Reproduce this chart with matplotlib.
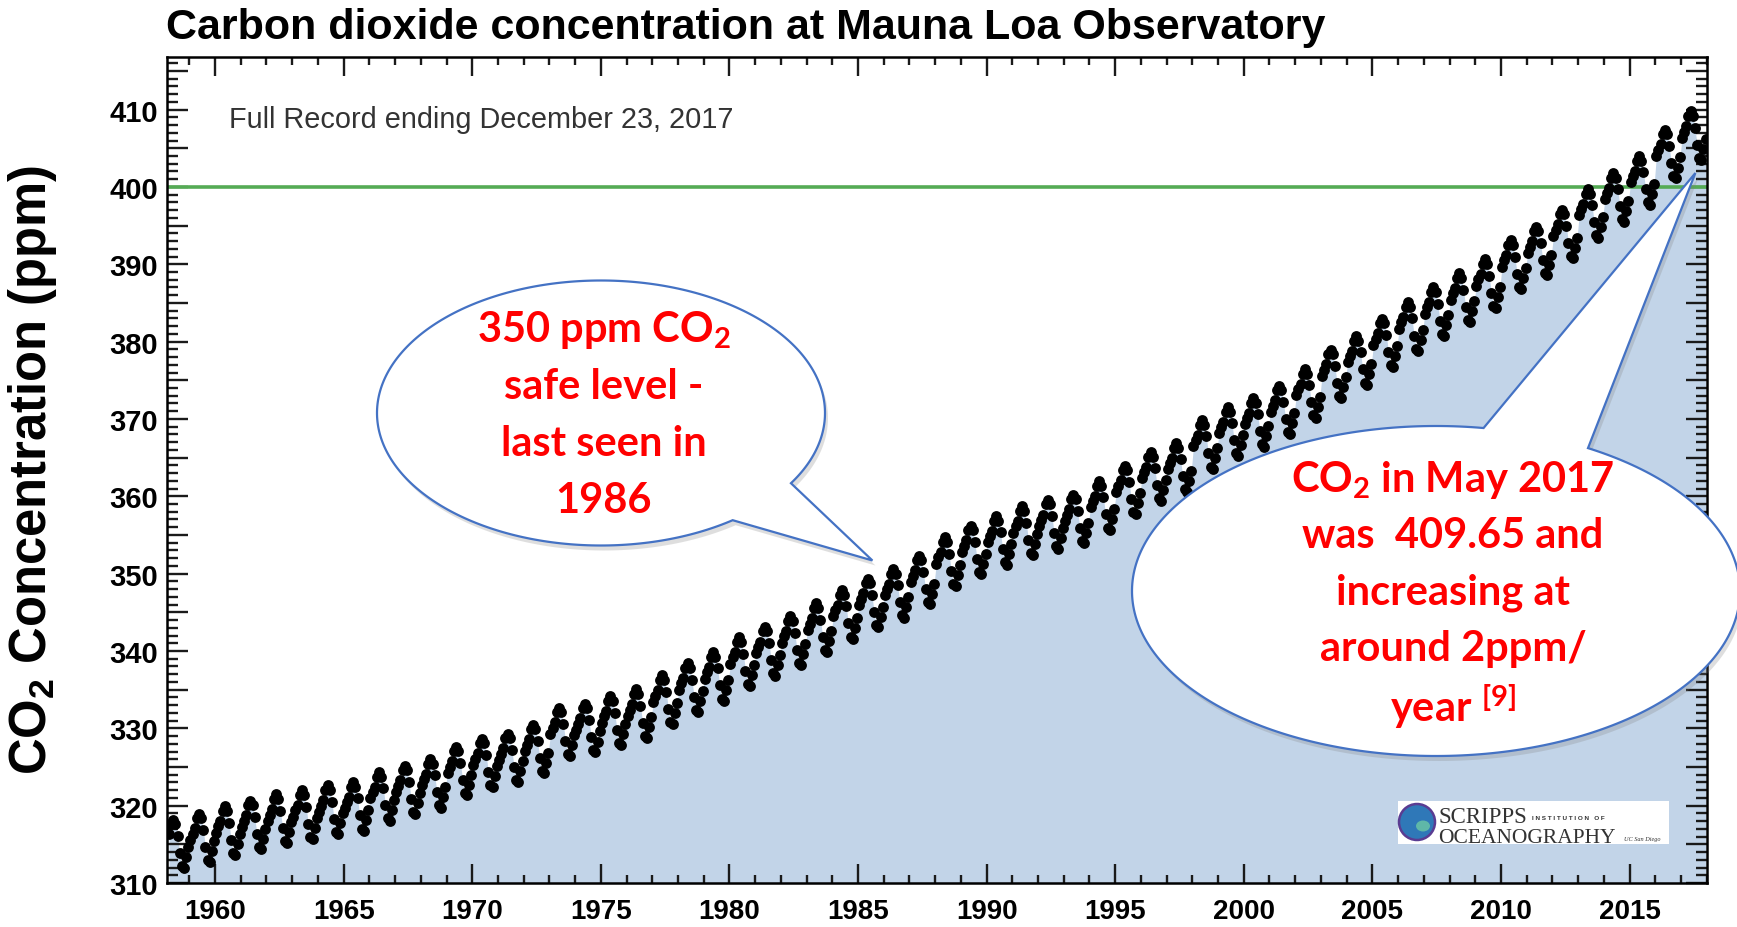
import numpy as np
import matplotlib
matplotlib.use("Agg")
import matplotlib.pyplot as plt
from matplotlib.patches import Polygon, Rectangle, Ellipse
from matplotlib.ticker import MultipleLocator, FuncFormatter

W, H = 1737, 928

# Mauna Loa record: yearly level and the mean seasonal swing
years = list(range(1958, 2018))
annual_mean_ppm = [315.20, 315.98, 316.91, 317.64, 318.45, 318.99, 319.62, 320.04, 321.37, 322.18,
                   323.05, 324.62, 325.68, 326.32, 327.46, 329.68, 330.19, 331.13, 332.03, 333.84,
                   335.41, 336.84, 338.76, 340.12, 341.48, 343.15, 344.87, 346.35, 347.61, 349.31,
                   351.69, 353.20, 354.45, 355.70, 356.54, 357.21, 358.96, 360.97, 362.74, 363.88,
                   366.84, 368.54, 369.71, 371.32, 373.45, 375.98, 377.70, 379.98, 382.09, 384.02,
                   385.83, 387.64, 390.10, 391.85, 394.06, 396.74, 398.81, 401.01, 404.41, 406.76]
month_offset_ppm = [-0.4, 0.4, 1.1, 2.4, 3.0, 2.4, 0.9, -1.3, -3.0, -3.3, -1.9, -0.6]
first_month_1958 = 3  # record starts March 1958
safe_level_ppm = 400

title = "Carbon dioxide concentration at Mauna Loa Observatory"
record_note = "Full Record ending December 23, 2017"
left_callout = ["350 ppm CO$_2$", "safe level -", "last seen in", "1986"]
left_tip = (1985.56, 351.7)
right_callout = ["CO$_2$ in May 2017", "was  409.65 and", "increasing at", "around 2ppm/", "year $^{[9]}$"]
right_tip = (2017.56, 401.8)

plt.rcParams["font.family"] = ["Liberation Sans", "DejaVu Sans"]
plt.rcParams["font.weight"] = "bold"
plt.rcParams["mathtext.default"] = "regular"


def fx(x):
    return x / W


def fy(y):
    return 1 - y / H


# build monthly series
t, co2 = [], []
for i, yr in enumerate(years):
    for m in range(12):
        if yr == 1958 and m + 1 < first_month_1958:
            continue
        t.append(yr + (m + 0.5) / 12)
        co2.append(annual_mean_ppm[i] + month_offset_ppm[m])
t = np.array(t)
co2 = np.array(co2)

fig = plt.figure(figsize=(W / 100, H / 100), dpi=100)
ax = fig.add_axes([fx(166.7), fy(884), (1706.7 - 166.7) / W, (884 - 58) / H])

ax.fill_between(t, 310, co2, color="#c2d4e8", lw=0, zorder=1)
ax.axhline(safe_level_ppm, color="#55ab55", lw=2.6, zorder=2)
ax.plot(t, co2, "o", color="black", ms=7.8, mew=0, zorder=3)

ax.set_xlim(1958.12, 2018.0)
ax.set_ylim(310, 416.8)
ax.xaxis.set_major_locator(MultipleLocator(5))
ax.xaxis.set_minor_locator(MultipleLocator(1))
ax.yaxis.set_major_locator(MultipleLocator(5))
ax.yaxis.set_minor_locator(MultipleLocator(1))
ax.yaxis.set_major_formatter(FuncFormatter(lambda v, p: "%d" % round(v) if round(v) % 10 == 0 else ""))
ax.tick_params(which="both", direction="in", top=True, right=True, width=1.7, color="#1a1a1a")
ax.tick_params(axis="x", which="major", length=14, pad=11, labelsize=20)
ax.tick_params(axis="x", which="minor", length=5.5)
ax.tick_params(axis="y", which="major", length=15, pad=6, labelsize=21)
ax.tick_params(axis="y", which="minor", length=8)
for sp in ax.spines.values():
    sp.set_linewidth(1.8)

fig.text(fx(166), fy(39), title, fontsize=31, weight="bold", va="baseline")
fig.text(fx(33), fy(470), "CO$_2$ Concentration (ppm)", fontsize=36.5, weight="bold",
         rotation=90, ha="center", va="center")
fig.text(fx(229), fy(120), record_note, fontsize=20.8, weight="normal", color="#333333", va="center")

fig.canvas.draw()


def tip_px(pt):
    X, Y = ax.transData.transform(pt)
    return X, H - Y


def bubble(cx, cy, a, b, t1, t2, tip):
    th = np.radians(np.linspace(t2, t1 + 360, 300))
    pts = [(cx + a * np.cos(v), cy + b * np.sin(v)) for v in th] + [tip]
    shadow = [(fx(x + 3), fy(y + 5)) for x, y in pts]
    fig.add_artist(Polygon(shadow, closed=True, facecolor="#7f7f7f", alpha=0.25,
                           edgecolor="none", transform=fig.transFigure, zorder=4))
    fig.add_artist(Polygon([(fx(x), fy(y)) for x, y in pts], closed=True, facecolor="white",
                           edgecolor="#4472c4", lw=1.6, transform=fig.transFigure, zorder=5))


bubble(601, 414, 224, 132.5, 32, 54, tip_px(left_tip))
bubble(1436, 592, 304, 165, -81, -60, tip_px(right_tip))

for k, line in enumerate(left_callout):
    fig.text(fx(604), fy(330 + 57 * k), line, fontsize=30, family="Lato", weight="bold",
             color="#ff0000", ha="center", va="center", zorder=6)
for k, line in enumerate(right_callout):
    fig.text(fx(1453), fy(480 + 56.5 * k), line, fontsize=30, family="Lato", weight="bold",
             color="#ff0000", ha="center", va="center", zorder=6)

# Scripps logo
fig.add_artist(Rectangle((fx(1398), fy(845)), (1669 - 1398) / W, 43 / H, facecolor="white",
                         edgecolor="none", transform=fig.transFigure, zorder=4))
fig.add_artist(Ellipse((fx(1417), fy(823)), 36 / W, 36 / H, facecolor="#2f78b8",
                       edgecolor="#5a3c92", lw=1.8, transform=fig.transFigure, zorder=5))
fig.add_artist(Ellipse((fx(1423), fy(827)), 14 / W, 11 / H, facecolor="#5fb7a8",
                       edgecolor="none", transform=fig.transFigure, zorder=5))
fig.text(fx(1438), fy(823), "SCRIPPS", family="Liberation Serif", weight="normal",
         fontsize=16.5, color="#333333", va="baseline", zorder=6)
fig.text(fx(1532), fy(820), "I N S T I T U T I O N   O F", family="Liberation Sans", weight="bold",
         fontsize=4.6, color="#333333", va="baseline", zorder=6)
fig.text(fx(1438), fy(843), "OCEANOGRAPHY", family="Liberation Serif", weight="normal",
         fontsize=15.5, color="#333333", va="baseline", zorder=6)
fig.text(fx(1624), fy(841), "UC San Diego", family="Liberation Serif", weight="normal",
         style="italic", fontsize=4.5, color="#333333", va="baseline", zorder=6)

fig.savefig("out.png", dpi=100)
